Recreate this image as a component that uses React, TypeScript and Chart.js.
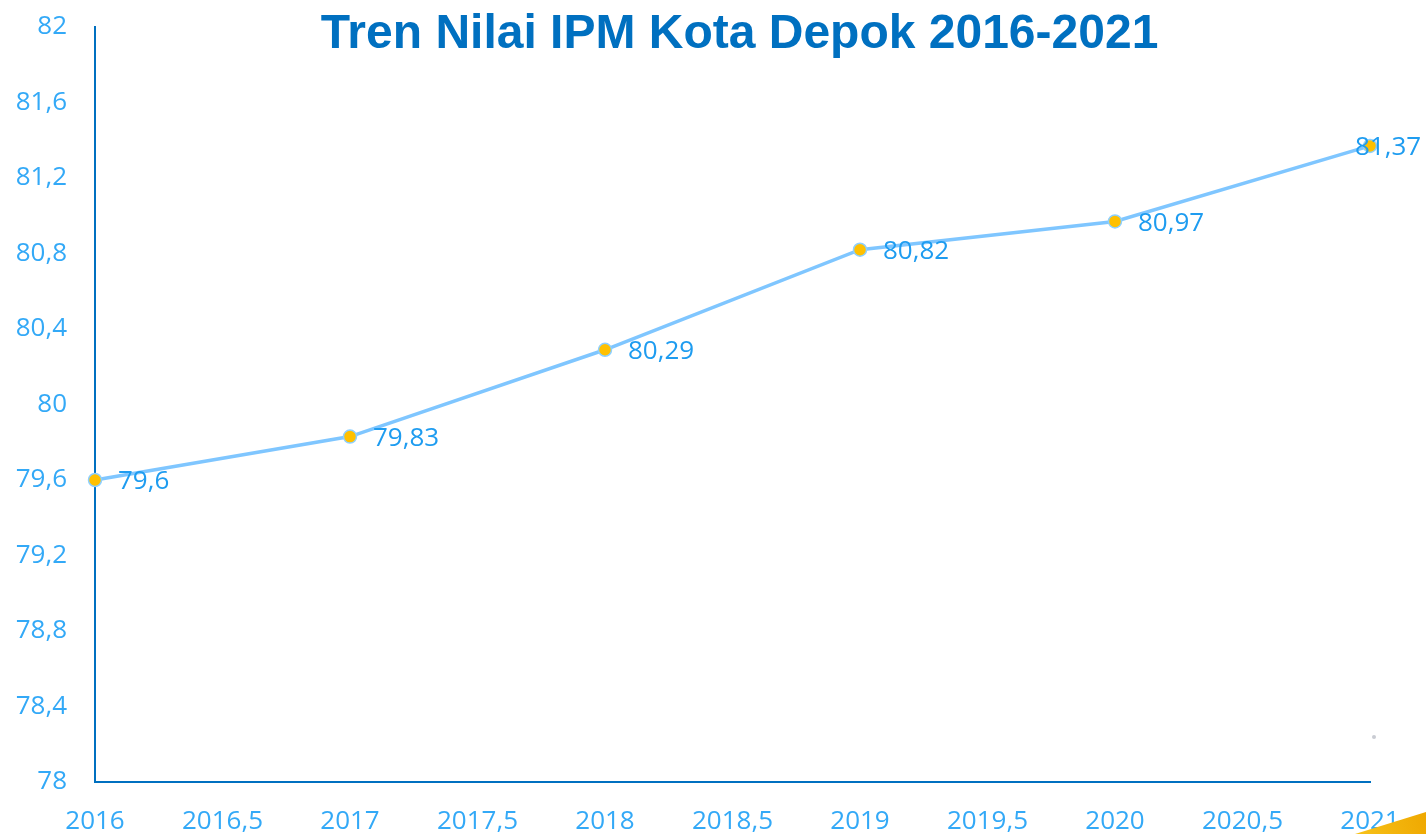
import React, { useEffect, useRef } from "react";
import { Chart, registerables } from "chart.js";

Chart.register(...registerables);

const years = [2016, 2017, 2018, 2019, 2020, 2021];
const ipmValues = [79.6, 79.83, 80.29, 80.82, 80.97, 81.37];
const titleText = "Tren Nilai IPM Kota Depok 2016-2021";
const yMin = 78;
const yMax = 82;
const yStep = 0.4;
const xMin = 2016;
const xMax = 2021;
const xStep = 0.5;

const fmt = (v: number) => String(Math.round(v * 100) / 100).replace(".", ",");

const FONT = "'Open Sans', 'Liberation Sans', sans-serif";

const titlePlugin = {
  id: "customTitle",
  afterDraw(chart: any) {
    const { ctx, chartArea } = chart;
    ctx.save();
    ctx.font = `bold 48px 'Liberation Sans', Arial, sans-serif`;
    ctx.fillStyle = "#0070C0";
    ctx.textAlign = "center";
    ctx.textBaseline = "alphabetic";
    ctx.fillText(titleText, (chartArea.left + chartArea.right) / 2 + 7, 48);
    ctx.restore();
  },
};

const dataLabelPlugin = {
  id: "dataLabels",
  afterDatasetsDraw(chart: any) {
    const { ctx } = chart;
    const meta = chart.getDatasetMeta(0);
    ctx.save();
    ctx.font = `26px ${FONT}`;
    ctx.fillStyle = "#1E9CF0";
    ctx.textAlign = "left";
    ctx.textBaseline = "middle";
    meta.data.forEach((pt: any, i: number) => {
      const label = fmt(ipmValues[i]);
      const isLast = i === ipmValues.length - 1;
      ctx.fillText(label, pt.x + (isLast ? -15 : 23), pt.y + 2);
    });
    ctx.restore();
  },
};

const decorPlugin = {
  id: "decor",
  afterDraw(chart: any) {
    const { ctx, width, height } = chart;
    ctx.save();
    const g = ctx.createLinearGradient(width - 70, height, width, height - 22);
    g.addColorStop(0, "#F7C21A");
    g.addColorStop(1, "#EFA800");
    ctx.fillStyle = g;
    ctx.beginPath();
    ctx.moveTo(width - 71, height);
    ctx.lineTo(width, height - 22);
    ctx.lineTo(width, height);
    ctx.closePath();
    ctx.fill();
    ctx.fillStyle = "#C9CCD3";
    ctx.beginPath();
    ctx.arc(width - 52, height - 97, 2, 0, Math.PI * 2);
    ctx.fill();
    ctx.restore();
  },
};

export default function App() {
  const canvasRef = useRef<HTMLCanvasElement | null>(null);

  useEffect(() => {
    if (!canvasRef.current) return;
    const chart = new Chart(canvasRef.current, {
      type: "line",
      data: {
        datasets: [
          {
            label: "IPM",
            data: years.map((x, i) => ({ x, y: ipmValues[i] })),
            borderColor: "#7FC6FF",
            borderWidth: 3.5,
            pointRadius: 6.5,
            pointBackgroundColor: "#FFC000",
            pointBorderColor: "#8ED0FF",
            pointBorderWidth: 1.5,
            tension: 0,
            fill: false,
            clip: false,
          } as any,
        ],
      },
      options: {
        responsive: false,
        animation: false,
        devicePixelRatio: 1,
        layout: { padding: { left: 0, right: 56, top: 27, bottom: 0 } },
        plugins: {
          legend: { display: false },
          title: { display: false },
          tooltip: { enabled: false },
        },
        scales: {
          x: {
            type: "linear",
            min: xMin,
            max: xMax,
            grid: { display: false, drawTicks: false },
            border: { display: true, color: "#0070C0", width: 2 },
            ticks: {
              stepSize: xStep,
              color: "#33A9F7",
              font: { family: FONT, size: 26 },
              padding: 24,
              maxRotation: 0,
              autoSkip: false,
              callback: (v: any) => fmt(Number(v)),
            },
            afterFit: (scale: any) => {
              scale.height = 52;
              scale.paddingLeft = 0;
              scale.paddingRight = 0;
            },
          },
          y: {
            type: "linear",
            min: yMin,
            max: yMax,
            grid: { display: false, drawTicks: false },
            border: { display: true, color: "#0070C0", width: 2 },
            ticks: {
              stepSize: yStep,
              color: "#33A9F7",
              font: { family: FONT, size: 26 },
              padding: 28,
              autoSkip: false,
              callback: (v: any) => fmt(Number(v)),
            },
            afterFit: (scale: any) => {
              scale.width = 95;
              scale.paddingTop = 0;
              scale.paddingBottom = 0;
            },
          },
        },
      },
      plugins: [titlePlugin, dataLabelPlugin, decorPlugin],
    });
    return () => chart.destroy();
  }, []);

  return (
    <div style={{ position: "absolute", left: 0, top: 0, width: 1426, height: 834, background: "#fff" }}>
      <canvas ref={canvasRef} width={1426} height={834} style={{ width: 1426, height: 834, display: "block" }} />
    </div>
  );
}
